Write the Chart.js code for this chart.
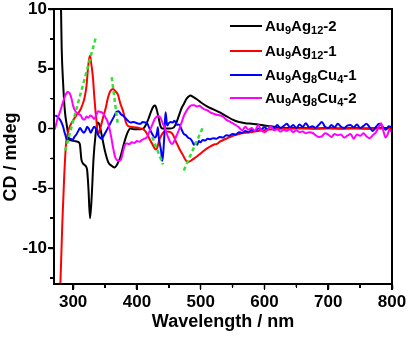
<!DOCTYPE html>
<html>
<head>
<meta charset="utf-8">
<script src="https://cdn.jsdelivr.net/npm/chart.js@4.4.1/dist/chart.umd.min.js"></script>
<style>
html,body{margin:0;padding:0;background:#fff;}
#wrap{position:relative;width:408px;height:342px;}
canvas{display:block;}
.fr{position:absolute;box-sizing:border-box;border:2px solid #000;pointer-events:none;}
.tk{position:absolute;background:#000;pointer-events:none;}
</style>
</head>
<body>
<div id="wrap"><canvas id="c" width="408" height="342"></canvas></div>
<script>
// ---- data ----
const seriesNames = ['Au9Ag12-2', 'Au9Ag12-1', 'Au9Ag8Cu4-1', 'Au9Ag8Cu4-2'];
const seriesColors = ['#000000', '#ff0000', '#0000ff', '#ff00ff'];

const xTickLabels = [300, 400, 500, 600, 700, 800];
const yTickLabels = [-10, -5, 0, 5, 10];
const xMinorTicks = [350, 450, 550, 650, 750];
const yMinorTicks = [-12.5, -7.5, -2.5, 2.5, 7.5];

const blackNm = [276, 279, 281, 282, 284.4, 287, 290, 294, 298, 302.6, 307, 310.5, 313, 316, 320, 322, 324, 326.5, 329, 332, 335, 338, 341, 345, 350, 355, 360, 364.8, 369, 374, 379, 384.5, 389.6, 395, 400, 405, 410, 414, 418, 422, 426, 428.5, 431, 434, 437, 440, 447, 452, 458, 462, 466, 470, 474, 478, 484, 488, 494, 500, 510, 520, 530, 540, 550, 560, 570, 580, 590, 600, 610, 620, 640, 660, 680, 700, 720, 740, 760, 780, 800];
const blackCD = [16, 13, 10, 6.8, 3.7, 1.5, 0.3, -0.9, -1.0, -1.05, -1.1, -1.3, -2.6, -2.95, -3.15, -3.5, -5.0, -7.5, -5.8, -2.5, -0.6, 0.5, 0.35, -0.6, -1.9, -2.8, -3.1, -3.25, -3.0, -2.4, -1.4, -0.45, 0, -0.05, -0.05, -0.05, 0, 0.3, 0.8, 1.4, 1.85, 1.92, 1.6, 0.9, 0.2, 0, 0, 0, 0.1, 0.5, 1.1, 1.7, 2.1, 2.5, 2.76, 2.65, 2.45, 2.2, 1.85, 1.6, 1.35, 1.05, 0.75, 0.55, 0.45, 0.4, 0.35, 0.25, 0.2, 0.1, 0.05, 0.05, 0, 0.05, 0, 0.05, 0, 0.05, 0.05];

const redNm = [277, 280, 283, 286, 289, 292, 295, 300, 305, 310.5, 314, 318, 321, 323.4, 325, 326.5, 328, 331, 333, 335, 337, 339, 343, 347, 351, 354.7, 358, 362.5, 366, 370, 374, 378, 384, 390, 400, 406, 411, 416, 420, 424, 429.6, 432, 434.8, 438, 442, 447, 452.7, 457, 460.4, 464, 468, 472, 476, 479, 483, 487, 491, 495, 499.5, 505, 510, 515, 520, 525.6, 530, 540, 551.6, 560, 570, 577.7, 590, 603.8, 615, 630, 650, 680, 700, 720, 740, 760, 780, 800];
const redCD = [-16, -13, -8, -4, -1.2, -0.3, 0.2, 0.7, 1.1, 1.5, 1.9, 2.6, 3.6, 5.1, 5.8, 6.1, 5.6, 4.3, 2.8, 1.5, 0.4, -0.5, 0.1, 0.94, 1.7, 2.6, 3.1, 3.3, 3.15, 2.85, 2.1, 1.5, 0.35, 0.15, 0.1, 0, -0.1, -0.45, -0.9, -1.28, -1.75, -1.6, -1.0, -0.6, -0.3, -0.25, -0.3, -0.55, -1.0, -1.4, -1.84, -2.2, -2.6, -2.8, -2.75, -2.6, -2.45, -2.3, -2.1, -1.85, -1.65, -1.5, -1.35, -1.28, -1.1, -0.85, -0.58, -0.45, -0.35, -0.3, -0.2, -0.1, -0.05, 0, 0, 0, 0, 0, 0, 0, 0, 0];

const blueNm = [272, 276, 280, 284, 287, 290, 293, 296, 299, 302, 305, 308, 311, 314, 317, 320, 322, 325, 327.5, 330, 333, 336, 339, 342, 345, 348, 352, 356, 360, 364, 368, 371, 375, 380, 385, 390, 395, 400, 405.8, 409, 413.7, 416, 419, 424, 428, 430, 432, 432.8, 434, 436, 438, 439.7, 441, 443, 444.8, 446, 447.5, 450, 452.7, 456, 459, 463, 466, 469, 473.5, 477, 480, 484, 487, 489.5, 492, 494.5, 497, 500, 503, 507, 511, 515, 520, 525, 530, 535, 540, 545, 550, 555, 560, 565, 570, 575, 580, 585, 590, 595, 600, 605, 610, 615, 620, 625, 630, 635, 640, 645, 650, 655, 660, 665, 670, 675, 680, 685, 690, 695, 700, 705, 710, 715, 720, 725, 730, 735, 740, 745, 750, 755, 760, 765, 770, 775, 780, 785, 790, 795, 800];
const blueCD = [1.1, 0.95, 0.7, 0.2, -0.4, -0.9, -1.0, -0.85, -0.95, -0.7, -0.5, -0.2, 0.05, -0.2, -0.35, -0.1, 0.15, -0.05, -0.35, -0.1, 0.15, -0.05, -0.5, -0.75, -0.85, -0.6, -0.2, 0.2, 0.6, 1.0, 1.4, 1.45, 1.2, 1.0, 0.7, 0.5, 0.55, 0.45, 0.4, 0.55, 0.5, 0.45, 0.1, -0.45, -0.75, -0.65, -0.2, 0.1, -0.6, -1.3, -1.9, -2.7, -2.2, -0.6, 1.36, 0.9, 0.25, 0.45, 0.55, 0.5, 0.65, 0.3, 0.35, 0.05, -0.45, -0.55, -0.75, -0.86, -1.1, -1.35, -1.2, -1.35, -1.05, -1.15, -0.95, -1.0, -0.85, -0.9, -0.8, -0.85, -0.7, -0.75, -0.55, -0.6, -0.45, -0.5, -0.3, -0.35, -0.2, -0.3, -0.1, -0.2, 0, -0.05, 0.1, -0.05, 0.2, 0, 0.3, 0.05, 0.2, 0.4, 0.1, 0.3, 0.05, 0.35, 0.15, 0.45, 0.1, 0.2, 0.05, 0.3, 0.55, 0.15, 0.05, 0.3, 0.1, 0.4, 0.15, 0.05, 0.25, 0.3, 0.1, 0.35, 0.05, 0.2, 0.4, 0.1, -0.2, 0.15, 0.4, 0.2, -0.1, 0.2, 0.1];

const magentaNm = [271, 273, 276, 280, 284, 288, 291, 294, 297, 300, 303, 306, 309, 312, 315, 318, 321, 324, 327, 330, 333, 336, 339, 342, 345, 348, 351, 354, 357, 360, 363, 366, 369, 372, 375, 378, 381, 384, 388, 392, 396, 400, 404, 408, 412, 416, 420, 424, 428, 431, 434, 437, 440, 444, 448, 452, 455, 458, 462, 466, 470, 474, 478, 482, 486, 490, 494, 498, 502, 506, 510, 515, 520, 525, 530, 535, 540, 545, 550, 555, 560, 565, 570, 575, 580, 585, 590, 595, 600, 605, 610, 615, 620, 625, 630, 635, 640, 645, 650, 655, 660, 665, 670, 675, 680, 685, 690, 695, 700, 705, 710, 715, 720, 725, 730, 735, 740, 745, 750, 755, 760, 765, 770, 775, 780, 783, 786, 790, 793, 796, 800];
const magentaCD = [-0.1, 0.3, 0.9, 1.5, 2.2, 2.8, 3.05, 3.0, 2.6, 1.9, 1.5, 1.3, 1.2, 1.1, 0.8, 0.75, 1.0, 0.9, 1.1, 1.0, 0.8, 1.1, 1.45, 1.4, 1.35, 1.2, 0.9, 0.6, 0, -0.8, -1.7, -2.4, -2.65, -2.7, -2.6, -2.0, -1.4, -1.25, -1.3, -1.15, -1.2, -1.05, -1.1, -0.95, -0.85, -0.7, -0.2, 0.3, 0.8, 1.0, 1.05, 0.9, 0.5, 0, -0.6, -1.1, -1.3, -1.1, -0.6, -0.1, 0.5, 1.1, 1.5, 1.8, 1.95, 1.95, 1.85, 1.9, 1.75, 1.6, 1.55, 1.35, 1.25, 1.15, 1.1, 1.0, 0.75, 0.6, 0.45, 0.3, 0.1, -0.15, 0.15, -0.1, 0.05, -0.2, 0.3, -0.15, -0.3, -0.1, 0.2, -0.15, -0.05, -0.25, -0.1, -0.2, -0.05, -0.3, -0.15, -0.3, -0.25, -0.4, -0.3, -0.35, -0.55, -0.7, -0.65, -0.4, -0.5, -0.7, -0.45, -0.55, -0.5, -0.75, -0.6, -0.45, -0.85, -0.5, -0.6, -0.4, -0.65, -0.8, -0.55, -0.3, 0.2, 0.45, -0.1, -0.75, -0.5, -0.1, -0.3];

// green dashed guide segments [x1, y1, x2, y2]
const guideA = [287.5, -1.84, 335.5, 7.6];
const guideB = [360.5, 4.3, 370.3, 0.25];
const guideC = [424, -0.7, 441, -3.0];
const guideD = [473.5, -3.5, 504.7, 0.25];

// ---- build ----
function pts(xs, ys) { return xs.map((x, i) => ({x: x, y: ys[i]})); }
function seg(g) { return [{x: g[0], y: g[1]}, {x: g[2], y: g[3]}]; }

const FONT = '"Liberation Sans", Arial, sans-serif';
const mainData = [pts(blackNm, blackCD), pts(redNm, redCD), pts(blueNm, blueCD), pts(magentaNm, magentaCD)];

const datasets = mainData.map((d, i) => ({
  label: seriesNames[i], data: d, borderColor: seriesColors[i], backgroundColor: seriesColors[i],
  borderWidth: 2, pointRadius: 0, cubicInterpolationMode: 'monotone', fill: false, order: 4 - i
}));
[guideA, guideB, guideC, guideD].forEach(g => datasets.push({
  label: '', data: seg(g), borderColor: '#33e033', borderWidth: 2.5, borderDash: [4, 3],
  pointRadius: 0, fill: false, order: 0
}));

const frameTicks = {
  id: 'frameTicks',
  beforeDatasetsDraw(chart) {
    const ctx = chart.ctx, a = chart.chartArea, xs = chart.scales.x, ys = chart.scales.y;
    ctx.save();
    ctx.setLineDash([]);
    ctx.strokeStyle = '#000';
    ctx.lineWidth = 2;
    ctx.strokeRect(a.left, a.top, a.right - a.left, a.bottom - a.top);
    ctx.lineWidth = 1.5;
    ctx.beginPath();
    xMinorTicks.forEach(v => { const p = xs.getPixelForValue(v); ctx.moveTo(p, a.bottom); ctx.lineTo(p, a.bottom + 3); });
    yMinorTicks.forEach(v => { const p = ys.getPixelForValue(v); ctx.moveTo(a.left, p); ctx.lineTo(a.left - 3, p); });
    ctx.stroke();
    ctx.restore();
  },
  afterDraw(chart) {
    const ctx = chart.ctx;
    ctx.save();
    ctx.setLineDash([]);
    ctx.fillStyle = '#000';
    ctx.font = 'bold 18px ' + FONT;
    ctx.textAlign = 'center';
    ctx.textBaseline = 'middle';
    ctx.translate(11, 157);
    ctx.rotate(-Math.PI / 2);
    ctx.fillText('CD / mdeg', 0, 0);
    ctx.restore();
    ctx.save();
    ctx.setLineDash([]);
    const lx1 = 230, lx2 = 262, tx = 265, rows = [26, 51, 75, 98];
    seriesNames.forEach((name, i) => {
      const y = rows[i];
      ctx.strokeStyle = seriesColors[i];
      ctx.lineWidth = 2;
      ctx.beginPath(); ctx.moveTo(lx1, y); ctx.lineTo(lx2, y); ctx.stroke();
      let x = tx;
      ctx.fillStyle = '#000';
      ctx.textBaseline = 'alphabetic';
      ctx.textAlign = 'left';
      let afterDash = false;
      for (const ch of name) {
        if (ch === '-') afterDash = true;
        const isSub = /[0-9]/.test(ch) && !afterDash;
        ctx.font = isSub ? 'bold 11px ' + FONT : 'bold 15px ' + FONT;
        ctx.fillText(ch, x, isSub ? y + 8 : y + 5);
        x += ctx.measureText(ch).width;
      }
    });
    ctx.restore();
  }
};

const axisGrid = { display: true, drawOnChartArea: false, drawTicks: true, tickLength: 5, color: '#000', tickColor: '#000', tickWidth: 1.5 };
const axisBorder = { display: true, color: '#000', width: 2 };

const chart = new Chart(document.getElementById('c'), {
  type: 'line',
  data: { datasets: datasets },
  plugins: [frameTicks],
  options: {
    responsive: false,
    animation: false,
    layout: { padding: { top: 9, right: 16, left: 0, bottom: 0 } },
    plugins: { legend: { display: false }, tooltip: { enabled: false } },
    scales: {
      x: {
        type: 'linear', min: 270, max: 800,
        afterBuildTicks: s => { s.ticks = xTickLabels.map(v => ({value: v})); },
        afterFit: s => { s.height = 58; s.paddingLeft = 0; s.paddingRight = 0; },
        grid: axisGrid,
        border: axisBorder,
        ticks: { color: '#000', font: { family: FONT, size: 17, weight: 'bold' }, padding: 3, maxRotation: 0 },
        title: { display: true, text: 'Wavelength / nm', color: '#000', font: { family: FONT, size: 18, weight: 'bold' }, padding: { top: 0, bottom: 9 } }
      },
      y: {
        type: 'linear', min: -13, max: 10,
        afterBuildTicks: s => { s.ticks = yTickLabels.map(v => ({value: v})); },
        afterFit: s => { s.width = 54; s.paddingTop = 0; s.paddingBottom = 0; },
        grid: axisGrid,
        border: axisBorder,
        ticks: { color: '#000', font: { family: FONT, size: 17, weight: 'bold' }, padding: 2 },
        title: { display: false }
      }
    }
  }
});

// frame and tick marks as an overlay placed from the chart's own scales
(function overlay() {
  try {
    const wrap = document.getElementById('wrap');
    const a = chart.chartArea, xs = chart.scales.x, ys = chart.scales.y;
    const fr = document.createElement('div');
    fr.className = 'fr';
    fr.style.left = (a.left - 1) + 'px';
    fr.style.top = (a.top - 1) + 'px';
    fr.style.width = (a.right - a.left + 2) + 'px';
    fr.style.height = (a.bottom - a.top + 2) + 'px';
    wrap.appendChild(fr);
    function tick(x, y, w, h) {
      const t = document.createElement('div');
      t.className = 'tk';
      t.style.left = x + 'px'; t.style.top = y + 'px'; t.style.width = w + 'px'; t.style.height = h + 'px';
      wrap.appendChild(t);
    }
    xTickLabels.forEach(v => tick(xs.getPixelForValue(v) - 0.75, a.bottom + 1, 1.5, 5));
    xMinorTicks.forEach(v => tick(xs.getPixelForValue(v) - 0.75, a.bottom + 1, 1.5, 3));
    yTickLabels.forEach(v => tick(a.left - 6, ys.getPixelForValue(v) - 0.75, 5, 1.5));
    yMinorTicks.forEach(v => tick(a.left - 4, ys.getPixelForValue(v) - 0.75, 3, 1.5));
  } catch (e) {}
})();
</script>
</body>
</html>
